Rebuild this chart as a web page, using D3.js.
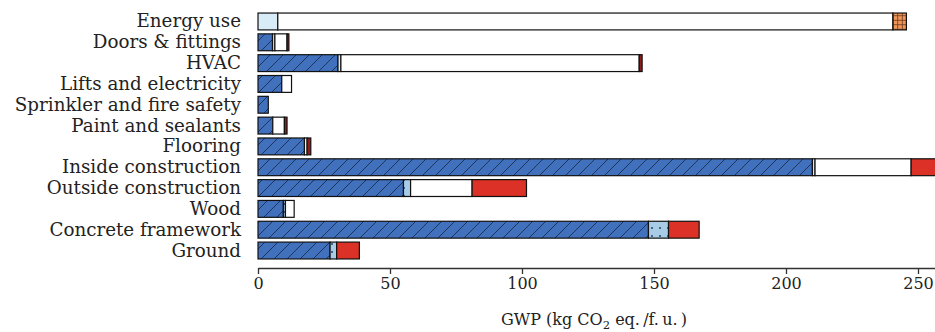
<!DOCTYPE html>
<html>
<head>
<meta charset="utf-8">
<script src="https://cdn.jsdelivr.net/npm/d3@7"></script>
<style>
  body { margin: 0; background: #fff; }
  svg { display: block; }
  text { font-family: "DejaVu Serif", serif; fill: #222; }
</style>
</head>
<body>
<svg id="chart" width="935" height="332"></svg>
<script>
const categories = ["Energy use", "Doors & fittings", "HVAC", "Lifts and electricity",
  "Sprinkler and fire safety", "Paint and sealants", "Flooring", "Inside construction",
  "Outside construction", "Wood", "Concrete framework", "Ground"];

// segment values per category, in stacking order
const production = [0, 5.5, 30.3, 9.0, 3.9, 5.6, 17.6, 210, 55.1, 9.6, 147.9, 27.3];
const transport  = [0, 0, 0, 0, 0, 0, 0, 0, 2.7, 0.8, 7.6, 2.5];
const site       = [7.5, 0.9, 1.1, 0, 0, 0, 0, 1.0, 0, 0, 0, 0];
const usePhase   = [233, 4.6, 113, 3.7, 0, 4.4, 1.0, 36.4, 23.3, 3.3, 0, 0];
const waste      = [0, 0.7, 1.1, 0, 0, 1.0, 1.4, 0, 0, 0, 0, 0];
const endOfLife  = [0, 0, 0, 0, 0, 0, 0, 16, 20.6, 0, 11.6, 8.6];
const energy     = [5.1, 0, 0, 0, 0, 0, 0, 0, 0, 0, 0, 0];

const xTicks = [0, 50, 100, 150, 200, 250];

const svg = d3.select("#chart");
const marginLeft = 258, marginTop = 12, axisY = 268;

const x = d3.scaleLinear().domain([0, 265]).range([marginLeft, marginLeft + 265 * 2.64]);
const y = d3.scaleBand().domain(categories).range([marginTop, axisY - 8]).paddingInner(0.19).paddingOuter(0.05);

// fill patterns
const defs = svg.append("defs");
const hatch = defs.append("pattern").attr("id", "hatch")
  .attr("patternUnits", "userSpaceOnUse").attr("width", 13).attr("height", 13);
hatch.append("rect").attr("width", 13).attr("height", 13).attr("fill", "#4170bd");
hatch.append("path").attr("d", "M0,13 L13,0 M-3,3 L3,-3 M10,16 L16,10")
  .attr("stroke", "#1c335c").attr("stroke-width", 1);

const dots = defs.append("pattern").attr("id", "dots")
  .attr("patternUnits", "userSpaceOnUse").attr("width", 8).attr("height", 8);
dots.append("rect").attr("width", 8).attr("height", 8).attr("fill", "#a8cbe6");
dots.append("circle").attr("cx", 4).attr("cy", 4).attr("r", 0.9).attr("fill", "#1c335c");

const grid = defs.append("pattern").attr("id", "grid")
  .attr("patternUnits", "userSpaceOnUse").attr("width", 4.5).attr("height", 4.5);
grid.append("rect").attr("width", 4.5).attr("height", 4.5).attr("fill", "#ef9659");
grid.append("path").attr("d", "M2.25,0 V4.5 M0,2.25 H4.5")
  .attr("stroke", "#6b3a1c").attr("stroke-width", 0.8);

const series = [
  { values: production, fill: "url(#hatch)" },
  { values: transport, fill: "url(#dots)" },
  { values: site, fill: "#d8ecf8" },
  { values: usePhase, fill: "#ffffff" },
  { values: waste, fill: "#8e1d1d" },
  { values: endOfLife, fill: "#dc3126" },
  { values: energy, fill: "url(#grid)" }
];

// build stacked segments
const segments = [];
categories.forEach((c, i) => {
  let acc = 0;
  series.forEach(s => {
    const v = s.values[i];
    if (v > 0) segments.push({ cat: c, x0: acc, x1: acc + v, fill: s.fill });
    acc += v;
  });
});

svg.append("g")
  .selectAll("rect")
  .data(segments)
  .enter()
  .append("rect")
  .attr("x", d => x(d.x0))
  .attr("y", d => y(d.cat))
  .attr("width", d => x(d.x1) - x(d.x0))
  .attr("height", y.bandwidth())
  .attr("fill", d => d.fill)
  .attr("stroke", "#111")
  .attr("stroke-width", 1.2);

// category labels
svg.append("g")
  .attr("text-anchor", "end")
  .selectAll("text")
  .data(categories)
  .enter()
  .append("text")
  .attr("x", 241)
  .attr("y", d => y(d) + y.bandwidth() / 2 + 6)
  .style("font-size", "18.3px")
  .text(d => d);

// bottom axis
const axis = svg.append("g").attr("transform", `translate(0,${axisY})`)
  .call(d3.axisBottom(x).tickValues(xTicks).tickSize(6).tickPadding(4).tickSizeOuter(0));
axis.select(".domain").attr("stroke", "#333").attr("stroke-width", 1.3);
axis.selectAll(".tick line").attr("stroke", "#333").attr("stroke-width", 1.3);
axis.selectAll(".tick text")
  .style("font-family", "DejaVu Serif, serif")
  .style("font-size", "16px")
  .attr("fill", "#222");

const xl = svg.append("text")
  .attr("x", 594)
  .attr("y", 325)
  .attr("text-anchor", "middle")
  .style("font-size", "16px");
xl.append("tspan").text("GWP (kg CO");
xl.append("tspan").attr("dy", 4).style("font-size", "11.5px").text("2");
xl.append("tspan").attr("dy", -4).text(" eq.\u2009/f.\u2009u.\u2009)");
</script>
</body>
</html>
